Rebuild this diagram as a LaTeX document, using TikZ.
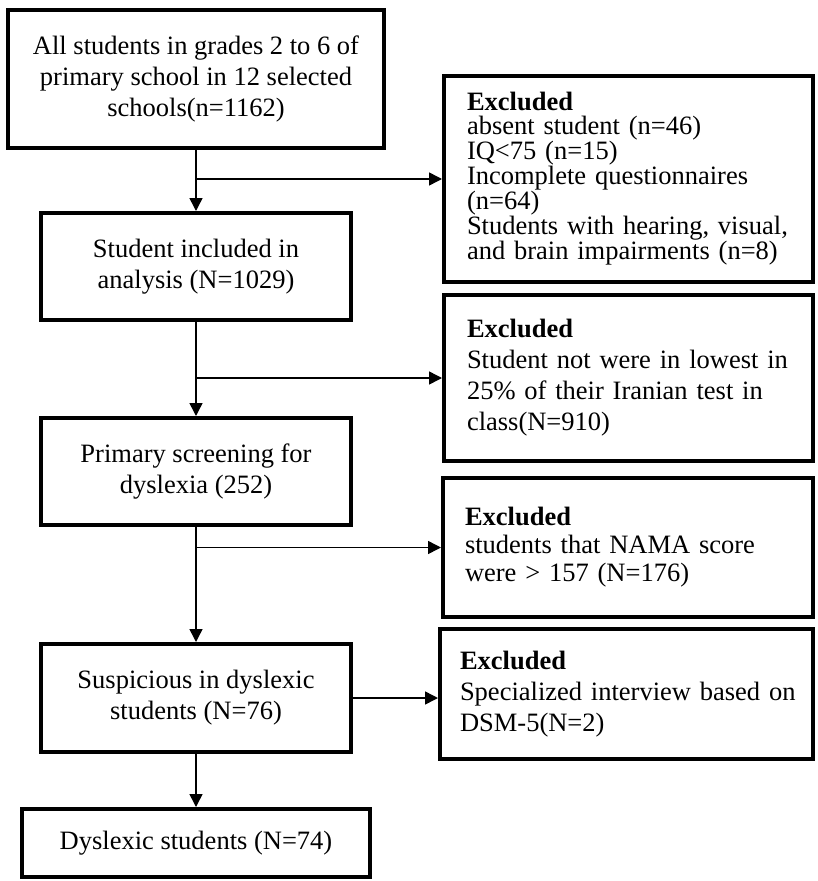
\documentclass[tikz,border=0pt]{standalone}
\usepackage{fontspec}
\setmainfont{Liberation Serif}
\usetikzlibrary{arrows.meta}
\begin{document}
\begin{tikzpicture}[x=1pt,y=-1pt,
  mainbox/.style={draw,line width=4pt,align=center,inner sep=0pt,
    font=\fontsize{26.5}{31}\selectfont},
  exbox/.style={draw,line width=4pt,align=left,inner ysep=0pt,
    font=\fontsize{26.5}{31}\selectfont},
  arr/.style={line width=1.5pt,-{Triangle[length=13pt,width=13pt]}}]
\useasboundingbox (0,0) rectangle (817,881);

% main column
\node[mainbox,minimum width=376pt,minimum height=138pt] (a) at (196,79)
  {All students in grades 2 to 6 of\\primary school in 12 selected\\schools(n=1162)};
\node[mainbox,minimum width=310pt,minimum height=107pt] (b) at (196,266.5)
  {Student included in\\analysis (N=1029)};
\node[mainbox,minimum width=310pt,minimum height=107pt] (c) at (196,471.5)
  {Primary screening for\\dyslexia (252)};
\node[mainbox,minimum width=310pt,minimum height=108pt] (d) at (196,698)
  {Suspicious in dyslexic\\students (N=76)};
\node[mainbox,minimum width=348pt,minimum height=68pt] (e) at (196,843)
  {Dyslexic students (N=74)};

% excluded boxes
\node[exbox,inner xsep=23pt,text width=323pt,minimum height=206pt,
  font=\fontsize{26.5}{24}\selectfont] (e1) at (628.5,179)
  {\textbf{Excluded}\\\mbox{absent student (n=46)}\\\mbox{IQ<75 (n=15)}\\\mbox{Incomplete questionnaires}\\(n=64)\\\mbox{Students with hearing, visual,}\\\mbox{and brain impairments (n=8)}};
\node[exbox,inner xsep=23pt,text width=323pt,minimum height=166pt] (e2) at (628.5,378)
  {\textbf{Excluded}\\\mbox{Student not were in lowest in}\\\mbox{25\% of their Iranian test in}\\\mbox{class(N=910)}};
\node[exbox,inner xsep=22pt,text width=326pt,minimum height=139pt,
  font=\fontsize{26.5}{28}\selectfont] (e3) at (628,547.5)
  {\textbf{Excluded}\\\mbox{students that NAMA score}\\\mbox{were > 157 (N=176)}};
\node[exbox,inner xsep=20pt,text width=333pt,minimum height=130pt] (e4) at (626.5,694)
  {\textbf{Excluded}\\\mbox{Specialized interview based on}\\\mbox{DSM-5(N=2)}};

% branch points
\coordinate (b1) at (a.south |- e1.west);
\coordinate (b2) at (b.south |- e2.west);
\coordinate (b3) at (c.south |- e3.west);

% connectors
\draw[arr] (a.south) -- (b.north);
\draw[arr] (b.south) -- (c.north);
\draw[arr] (c.south) -- (d.north);
\draw[arr] (d.south) -- (e.north);
\draw[arr] (b1) -- (e1.west);
\draw[arr] (b2) -- (e2.west);
\draw[arr] (b3) -- (e3.west);
\draw[arr] (d.east) -- (d.east -| e4.west);
\end{tikzpicture}
\end{document}
